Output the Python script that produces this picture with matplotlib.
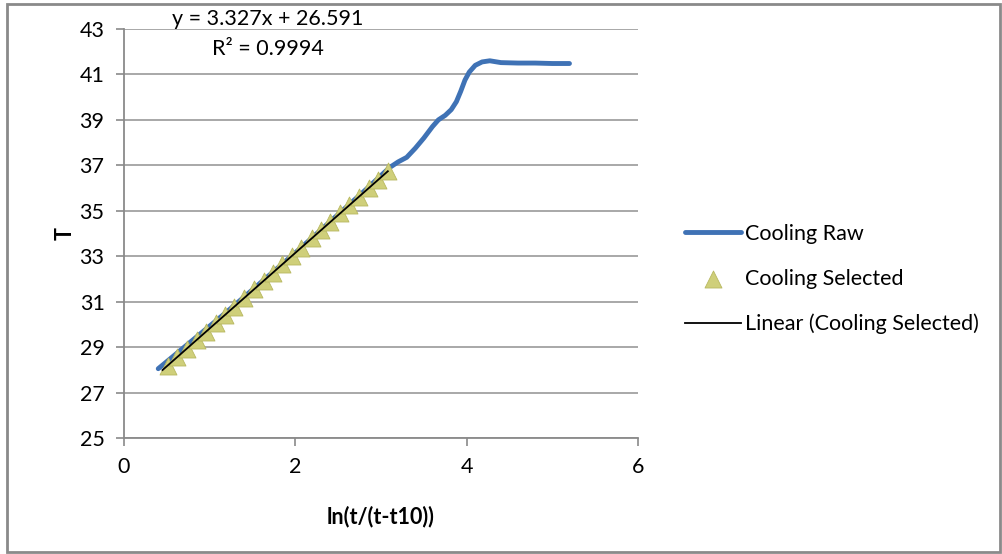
import numpy as np
import matplotlib
matplotlib.use("Agg")
import matplotlib.pyplot as plt
from matplotlib.patches import Rectangle

plt.rcParams['font.family'] = ['Lato', 'DejaVu Sans']

# Cooling Raw (whole curve)
raw_x = [0.40, 0.80, 1.20, 1.60, 2.00, 2.40, 2.80, 3.10, 3.20, 3.30, 3.40,
         3.50, 3.60, 3.67, 3.75, 3.82, 3.88, 3.93, 3.98, 4.03, 4.10, 4.18,
         4.27, 4.40, 4.60, 4.80, 5.00, 5.20]
raw_T = [28.05, 29.30, 30.55, 31.85, 33.15, 34.50, 35.85, 36.90, 37.15, 37.35,
         37.75, 38.20, 38.70, 39.00, 39.20, 39.45, 39.80, 40.25, 40.75, 41.10,
         41.40, 41.55, 41.60, 41.52, 41.50, 41.50, 41.48, 41.48]

# Cooling Selected (points used for the fit)
sel_x = [0.51, 0.62, 0.73, 0.85, 0.96, 1.07, 1.18, 1.29, 1.40, 1.52, 1.63, 1.74,
         1.85, 1.96, 2.07, 2.19, 2.30, 2.41, 2.52, 2.63, 2.74, 2.86, 2.97, 3.08]
sel_T = [28.19, 28.56, 28.92, 29.33, 29.68, 30.06, 30.42, 30.77, 31.16, 31.55,
         31.90, 32.28, 32.66, 33.01, 33.37, 33.79, 34.14, 34.50, 34.88, 35.25,
         35.60, 36.02, 36.37, 36.74]

eq_text = "y = 3.327x + 26.591"
r2_text = "R² = 0.9994"

fig = plt.figure(figsize=(10.03, 5.54), dpi=100)
ax = fig.add_axes([0.1236, 0.2094, 0.5125, 0.7383])

# outer frame of the chart area
fig.patches.append(Rectangle((0.007, 0.003), 0.99, 0.99, transform=fig.transFigure,
                             fill=False, edgecolor='#8a8a8a', lw=2))

ax.plot(raw_x, raw_T, color='#3f72b5', lw=3.5, solid_capstyle='round',
        label='Cooling Raw', zorder=2)
ax.scatter(sel_x, sel_T, marker='^', s=150, color='#cfcf7a', edgecolor='#b8b860',
           linewidth=0.6, label='Cooling Selected', zorder=3)

# linear trend line fitted on the selected points
k, b = np.polyfit(sel_x, sel_T, 1)
fx = np.array([min(sel_x) - 0.06, max(sel_x)])
ax.plot(fx, k * fx + b, color='black', lw=1.3, label='Linear (Cooling Selected)', zorder=4)

ax.set_xlim(0, 6)
ax.set_ylim(25, 43)
ax.set_xticks([0, 2, 4, 6])
ax.set_yticks(range(25, 44, 2))
ax.yaxis.grid(True, color='#9a9a9a', lw=1.2)
ax.set_axisbelow(True)
for s in ['top', 'right']:
    ax.spines[s].set_visible(False)
for s in ['left', 'bottom']:
    ax.spines[s].set_color('#8a8a8a')
    ax.spines[s].set_linewidth(1.3)
ax.tick_params(direction='out', length=6, color='#8a8a8a', width=1.2,
               labelsize=15.5, pad=8)

ax.set_xlabel('ln(t/(t-t10))', fontsize=15.5, fontweight='bold', labelpad=20)
ax.set_ylabel('T', fontsize=15.5, fontweight='bold', labelpad=3)

fig.text(268 / 1003, 1 - 19 / 554, eq_text, fontsize=15.5, ha='center', va='center')
fig.text(268 / 1003, 1 - 49 / 554, r2_text, fontsize=15.5, ha='center', va='center')

fig.legend(loc='center left', bbox_to_anchor=(666 / 1003, 1 - 279 / 554),
           frameon=False, fontsize=15.5, handlelength=2.6, handletextpad=0.15,
           labelspacing=1.15)

fig.savefig('out.png', dpi=100)
